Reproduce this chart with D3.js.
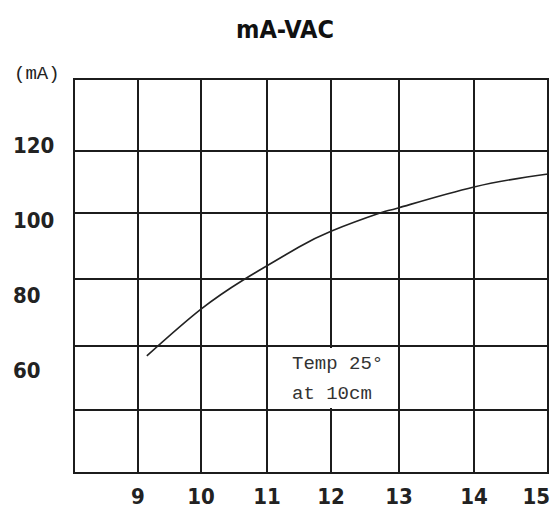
<!DOCTYPE html>
<html>
<head>
<meta charset="utf-8">
<script src="https://cdn.jsdelivr.net/npm/d3@7"></script>
<style>
  body { margin: 0; background: #fff; }
</style>
</head>
<body>
<script>
// grid values (the source grid is hand drawn, so cells are not even)
const xGrid = [8, 9, 10, 11, 12, 13, 14, 15];
const yGrid = [140, 120, 100, 80, 60, 40, 20];
const xTicks = [9, 10, 11, 12, 13, 14, 15];
const yTicks = [120, 100, 80, 60];

// mA vs VAC curve
const vac = [9.14, 10, 10.64, 11, 11.5, 12, 12.72, 13, 14, 15];
const mA = [56.9, 71.0, 79.7, 84.0, 89.7, 94.5, 100.0, 101.7, 108.4, 112.6];

const title = "mA-VAC";
const unit = "(mA)";
const note = ["Temp 25°", "at 10cm"];

const width = 557, height = 510;

const svg = d3.select("body").append("svg")
    .attr("width", width)
    .attr("height", height);

// piecewise scales so the lines land where the drawn grid has them
const x = d3.scaleLinear()
    .domain(xGrid)
    .range([74, 138, 201, 267, 331, 399, 474, 548]);
const y = d3.scaleLinear()
    .domain(yGrid)
    .range([79, 151, 213, 279, 346, 410, 473]);
// the y labels in the source are spaced evenly, not on the lines
const yLab = d3.scaleLinear().domain([60, 120]).range([370, 145]);

svg.append("text")
    .attr("x", 285)
    .attr("y", 38)
    .attr("text-anchor", "middle")
    .style("font-family", "'DejaVu Sans Condensed', 'DejaVu Sans'")
    .style("font-weight", "bold")
    .style("font-size", "25px")
    .attr("fill", "#111")
    .text(title);

svg.append("text")
    .attr("x", 14)
    .attr("y", 79)
    .style("font-family", "'Liberation Mono', monospace")
    .style("font-size", "19px")
    .attr("fill", "#222")
    .text(unit);

const grid = svg.append("g")
    .attr("stroke", "#1c1c1c")
    .attr("stroke-width", 2)
    .attr("fill", "none");

grid.selectAll("line.v").data(xGrid).enter().append("line")
    .attr("class", "v")
    .attr("x1", d => x(d)).attr("x2", d => x(d))
    .attr("y1", y(140)).attr("y2", y(20));

grid.selectAll("line.h").data(yGrid).enter().append("line")
    .attr("class", "h")
    .attr("y1", d => y(d)).attr("y2", d => y(d))
    .attr("x1", x(8) - 1).attr("x2", x(15) + 1);

// note box covers the line at 12
svg.append("rect")
    .attr("x", x(11) + 2)
    .attr("y", y(60) + 2)
    .attr("width", x(13) - x(11) - 4)
    .attr("height", y(40) - y(60) - 4)
    .attr("fill", "#fff");

svg.append("g").selectAll("text").data(note).enter().append("text")
    .attr("x", 292)
    .attr("y", (d, i) => 369 + i * 30)
    .style("font-family", "'Liberation Mono', monospace")
    .style("font-size", "19px")
    .attr("fill", "#333")
    .text(d => d);

const line = d3.line()
    .x(d => x(d[0]))
    .y(d => y(d[1]))
    .curve(d3.curveNatural);

svg.append("path")
    .datum(d3.zip(vac, mA))
    .attr("fill", "none")
    .attr("stroke", "#222")
    .attr("stroke-width", 1.6)
    .attr("d", line);

const labFont = "'DejaVu Sans Condensed', 'DejaVu Sans'";

svg.append("g").selectAll("text").data(yTicks).enter().append("text")
    .attr("x", 13)
    .attr("y", d => yLab(d) + 8)
    .style("font-family", labFont)
    .style("font-weight", "bold")
    .style("font-size", "22px")
    .attr("fill", "#222")
    .text(d => d);

svg.append("g").selectAll("text").data(xTicks).enter().append("text")
    .attr("x", d => d === 15 ? x(d) + 2 : x(d))
    .attr("y", 504)
    .attr("text-anchor", d => d === 15 ? "end" : "middle")
    .style("font-family", labFont)
    .style("font-weight", "bold")
    .style("font-size", "22px")
    .attr("fill", "#222")
    .text(d => d);
</script>
</body>
</html>
